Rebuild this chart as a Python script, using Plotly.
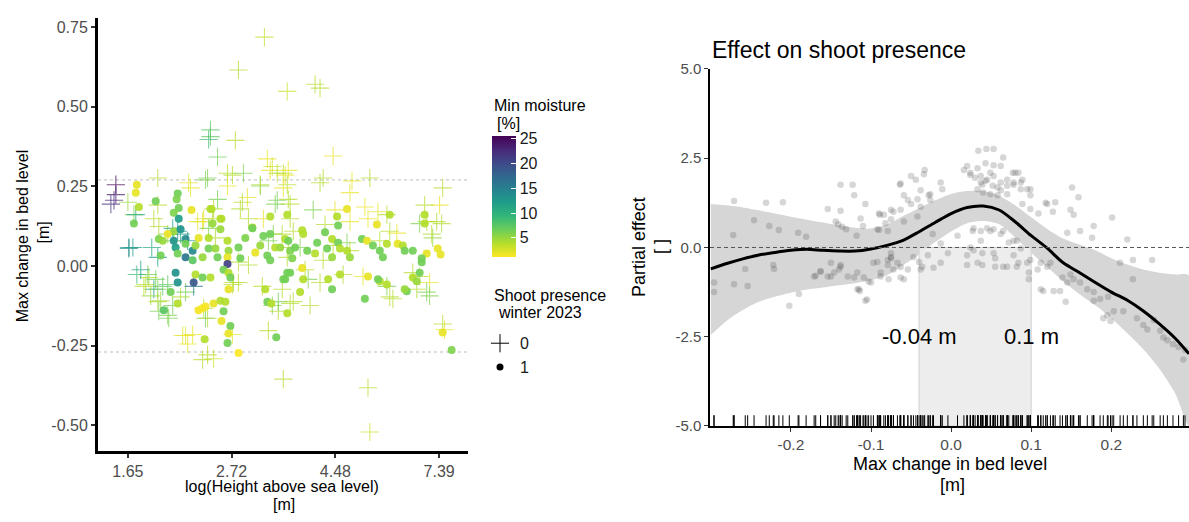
import plotly.graph_objects as go

# ---------------- data: left panel (bed level change vs. elevation) ----------------
# shoot presence = 0 (crosses)
cross_log_height = [1.158, 1.033, 1.268, 1.402, 1.426, 0.898, 0.898, 0.889, 1.018, 0.932,
                    0.442, 0.442, 0.433, 0.418, 0.644, 0.793, 0.802, 0.884, 0.980, 1.057,
                    0.980, 1.172, 1.186, 1.220, 1.249, 1.138, 1.220, 1.268, 1.076, 0.932,
                    0.913, 0.644, 0.529, 0.625, 0.505, 0.505, 0.524, 0.615, 0.836, 0.865,
                    1.042, 1.081, 1.153, 1.282, 1.201, 1.297, 0.692, 0.754, 0.788, 0.721,
                    0.634, 0.601, 0.625, 0.668, 0.586, 0.692, 0.658, 0.649, 0.716, 0.697,
                    0.754, 0.778, 0.817, 0.874, 0.778, 0.812, 1.004, 1.033, 1.004, 1.196,
                    1.225, 1.148, 1.033, 1.081, 0.860, 0.908, 0.889, 0.922, 0.740, 0.716,
                    0.649, 0.538, 1.052, 1.138, 1.196, 1.273, 1.004, 0.874, 1.210, 1.273,
                    1.244, 1.273, 1.177, 1.244, 1.177, 1.225, 1.489, 1.441, 1.426, 1.580,
                    1.570, 1.666, 1.258, 1.249, 1.282, 1.393, 1.450, 1.498, 1.570, 1.642,
                    1.657, 1.748, 1.762, 1.714, 1.796, 1.930, 1.940, 2.017, 2.002, 2.012,
                    1.964, 1.969, 1.556, 1.570, 1.489, 1.441, 1.330, 1.268, 1.369, 1.354,
                    1.426, 1.537, 1.633, 1.748, 1.777, 1.873, 1.892, 1.954, 1.954, 1.906,
                    1.378, 1.282, 2.026, 2.017, 1.249, 1.657, 1.666, 1.705, 1.988, 1.906,
                    0.596, 0.577, 0.610, 0.644, 0.644, 0.692, 0.865, 0.884, 0.764, 0.788,
                    0.884, 0.860, 0.913, 1.009, 1.297, 0.543, 0.562, 1.940, 1.762, 0.644,
                    0.500]
cross_bed_change = [0.718, 0.615, 0.548, 0.570, 0.558, 0.427, 0.406, 0.397, 0.394, 0.342,
                    0.255, 0.224, 0.206, 0.194, 0.276, 0.261, 0.245, 0.276, 0.291, 0.291,
                    0.251, 0.336, 0.300, 0.291, 0.291, 0.251, 0.206, 0.255, 0.215, 0.209,
                    0.179, 0.191, 0.161, 0.148, 0.058, 0.055, 0.058, 0.058, 0.139, 0.148,
                    0.179, 0.148, 0.148, 0.148, 0.100, 0.109, 0.100, 0.100, 0.079, 0.079,
                    -0.042, -0.036, -0.073, -0.064, -0.058, -0.058, -0.109, -0.142, -0.124, -0.164,
                    -0.097, -0.082, -0.064, -0.164, -0.218, -0.215, -0.058, -0.052, -0.215, -0.124,
                    -0.142, -0.064, 0.012, 0.003, 0.139, 0.148, 0.118, 0.088, 0.109, 0.118,
                    0.124, 0.161, 0.200, 0.255, 0.312, 0.300, 0.285, 0.270, 0.194, 0.209,
                    0.100, 0.058, 0.079, -0.073, -0.203, -0.112, 0.345, 0.276, 0.261, 0.267,
                    0.230, 0.276, 0.285, 0.245, 0.194, 0.176, 0.130, 0.176, 0.139, 0.185,
                    0.148, 0.161, 0.109, 0.079, 0.103, 0.191, 0.139, 0.245, 0.191, 0.133,
                    0.100, 0.088, 0.073, 0.048, 0.064, 0.018, 0.058, 0.027, -0.042, -0.012,
                    -0.052, -0.027, -0.033, -0.064, -0.103, -0.021, -0.073, -0.052, -0.094, -0.033,
                    -0.124, -0.118, -0.200, -0.182, -0.355, -0.382, -0.521, 0.170, 0.139, 0.133,
                    -0.027, -0.064, -0.094, -0.073, -0.112, -0.155, -0.133, -0.164, -0.218, -0.245,
                    -0.279, -0.294, -0.291, -0.052, -0.112, -0.027, -0.012, -0.082, -0.097, 0.027,
                    0.200]
cross_moisture = [3.5, 4, 3, 4, 4, 7.5, 7.5, 9, 4, 6.5,
                  25.6, 24, 23, 22, 4, 2, 2, 6, 4, 6,
                  2, 2, 2, 4, 4, 6, 6.5, 4, 2, 6.5,
                  4, 4, 6, 4, 13, 14, 12, 11, 2, 2,
                  4, 4, 2, 4, 6, 4, 5, 12, 13, 6.5,
                  6.5, 4, 12, 7.5, 4, 7.5, 5, 6.5, 6.5, 6,
                  4, 6.5, 16, 6.5, 2, 2, 4, 4, 2, 6,
                  4, 4, 4, 4, 2, 4, 6, 4, 13, 12,
                  4, 11, 4, 4, 3, 2, 4, 6, 6, 4,
                  4, 4, 6, 4, 4, 6.5, 2, 4, 4, 2,
                  2, 4, 2, 2, 4, 6, 4, 2, 2, 2,
                  2, 4, 4, 4, 2, 4, 4, 4, 2, 4,
                  4, 5, 6, 4, 4, 4, 6, 4, 6, 4,
                  4, 4, 2, 6, 4, 4, 4, 2, 6, 4,
                  4, 4, 2, 4, 4, 4, 3, 2, 4, 6,
                  6.5, 4, 5, 6, 4, 6, 4, 4, 2, 2,
                  4, 4, 3, 4, 4, 9, 12, 6, 4, 12,
                  5]

# shoot presence = 1 (dots)
dot_log_height = [0.543, 0.538, 0.553, 0.529, 0.634, 0.740, 0.735, 0.745, 0.807, 0.721,
                  0.903, 0.946, 1.100, 1.186, 1.268, 1.114, 1.210, 1.258, 1.066, 0.745,
                  0.721, 0.754, 0.649, 0.668, 0.692, 0.721, 0.778, 0.730, 0.778, 0.812,
                  0.826, 0.658, 0.740, 0.778, 0.812, 0.841, 0.889, 0.889, 0.922, 0.932,
                  0.860, 0.980, 0.985, 0.980, 0.980, 0.961, 0.985, 0.908, 0.951, 0.898,
                  0.946, 1.033, 1.100, 1.153, 1.186, 1.172, 1.186, 1.273, 1.282, 1.268,
                  0.730, 0.740, 0.817, 0.826, 0.860, 0.898, 0.985, 0.994, 0.740, 0.706,
                  0.673, 0.841, 0.860, 0.874, 0.913, 0.946, 0.970, 0.961, 0.951, 0.994,
                  0.985, 0.980, 0.870, 1.033, 1.215, 1.172, 1.191, 1.162, 1.258, 1.268,
                  1.330, 1.556, 1.340, 1.345, 1.508, 1.513, 1.450, 1.484, 1.513, 1.412,
                  1.306, 1.364, 1.402, 1.460, 1.522, 1.556, 1.570, 1.484, 1.628, 1.652,
                  1.700, 1.762, 1.681, 1.714, 1.729, 1.748, 1.800, 1.825, 1.834, 1.873,
                  1.930, 1.930, 1.993, 1.940, 1.916, 1.916, 1.906, 1.873, 1.892, 1.844,
                  1.834, 1.714, 1.705, 1.748, 1.642, 1.657, 1.522, 1.465, 1.484, 1.345,
                  1.340, 1.282, 1.249, 2.017, 2.007, 2.060, 1.234, 1.292, 1.138, 1.042]
dot_bed_change = [0.255, 0.230, 0.185, 0.133, 0.203, 0.227, 0.209, 0.182, 0.176, 0.167,
                  0.179, 0.148, 0.121, 0.155, 0.161, 0.042, 0.058, 0.085, 0.088, 0.148,
                  0.109, 0.115, 0.085, 0.079, 0.100, 0.079, 0.085, 0.058, 0.070, 0.048,
                  0.064, 0.033, 0.039, 0.027, 0.018, 0.088, 0.088, 0.055, 0.055, 0.027,
                  0.027, 0.079, 0.048, 0.027, 0.006, -0.012, -0.021, 0.133, 0.148, 0.179,
                  0.115, 0.058, 0.118, 0.094, 0.100, 0.033, 0.018, 0.079, 0.048, -0.021,
                  -0.021, -0.052, -0.052, -0.027, -0.036, -0.036, -0.073, -0.036, -0.118, -0.082,
                  -0.139, -0.139, -0.133, -0.127, -0.118, -0.109, -0.112, -0.142, -0.173, -0.188,
                  -0.212, -0.242, -0.230, -0.273, -0.224, -0.112, -0.118, -0.073, -0.042, -0.148,
                  -0.082, 0.179, 0.112, 0.100, 0.155, 0.127, 0.106, 0.085, 0.073, 0.073,
                  0.058, 0.048, 0.039, 0.055, 0.055, 0.048, 0.027, 0.027, 0.085, 0.079,
                  0.130, 0.161, 0.064, 0.048, 0.027, 0.070, 0.070, 0.064, 0.048, 0.048,
                  0.161, 0.133, 0.055, 0.039, 0.024, 0.012, -0.021, -0.036, -0.048, -0.079,
                  -0.073, -0.048, -0.042, -0.058, -0.103, -0.033, -0.027, -0.042, -0.073, -0.042,
                  -0.006, -0.021, -0.042, -0.209, 0.036, -0.264, 0.058, 0.024, 0.064, 0.024]
dot_moisture = [2, 2, 4, 6.5, 6.5, 6.5, 6, 6.5, 2, 6,
                4, 4, 4, 4, 4, 2, 4, 4, 6, 12,
                5, 13, 6, 5, 2, 13, 14, 12, 6.5, 14,
                5, 6.5, 6.5, 16, 7.5, 2, 4, 6.5, 5, 6.5,
                5, 4, 5, 2, 21, 6.5, 4, 5, 4, 4,
                5, 6.5, 6.5, 6.5, 6.5, 6.5, 6.5, 6.5, 6, 6.5,
                13, 13, 19, 4, 6.5, 4, 2, 6.5, 4, 6.5,
                7.5, 1.5, 1.5, 1.5, 2, 4, 4, 6.5, 2, 6.5,
                2, 6.5, 4, 1.2, 6.5, 6.5, 4, 4, 6.5, 4,
                4, 2, 4, 4, 4, 6.5, 6.5, 4, 6.5, 6.5,
                6.5, 6.5, 4, 6.5, 4, 4, 5, 5, 6.5, 2,
                2, 4, 6.5, 6.5, 6.5, 4, 2, 4, 6.5, 6.5,
                4, 4, 2, 2, 6.5, 6.5, 6.5, 4, 5, 6.5,
                5, 4, 6.5, 4, 6.5, 2, 4, 4, 6.5, 4,
                2, 6.5, 6.5, 2, 2, 6, 5, 6, 5, 6.5]

x_tick_vals = [0.5, 1.0, 1.5, 2.0]
x_tick_text = ["1.65", "2.72", "4.48", "7.39"]
y_tick_vals = [-0.5, -0.25, 0.0, 0.25, 0.5, 0.75]
y_tick_text = ["-0.50", "-0.25", "0.00", "0.25", "0.50", "0.75"]
bed_limits = [-0.27, 0.27]
moisture_ticks = [5, 10, 15, 20, 25]

# ---------------- data: right panel (partial effect) ----------------
right_x = [-0.271, -0.231, -0.210, -0.272, -0.246, -0.227, -0.215, -0.191, -0.181, -0.154,
           -0.138, -0.123, -0.121, -0.138, -0.107, -0.141, -0.136, -0.131, -0.113, -0.110,
           -0.118, -0.089, -0.090, -0.082, -0.075, -0.064,
           -0.296, -0.296, -0.271, -0.254, -0.257, -0.222, -0.221, -0.202, -0.190, -0.169,
           -0.163, -0.150, -0.154, -0.146, -0.140, -0.138, -0.129, -0.121, -0.117, -0.117,
           -0.114, -0.105, -0.103, -0.109, -0.097, -0.092, -0.088, -0.079, -0.078, -0.072,
           -0.067, -0.075,
           -0.144, -0.090, -0.063, -0.050, -0.044, -0.033, -0.038, -0.059, -0.054, -0.050,
           -0.042, -0.028, -0.026, -0.013, -0.011, -0.075, -0.072, -0.063, -0.092, -0.042,
           -0.023, 0.008, 0.016, 0.020, 0.024, 0.034, 0.044, 0.053, 0.065, 0.043,
           0.053, 0.062, 0.030, 0.037, 0.043, 0.049, 0.052, 0.058, 0.062, 0.070,
           0.078, 0.087, 0.077, 0.084, 0.099, 0.089, 0.099, 0.109, 0.120, 0.028,
           0.037, 0.045, 0.053, 0.062, 0.065, 0.072, 0.082,
           -0.171, -0.163, -0.150, -0.138, -0.115, -0.107, -0.100, -0.088, -0.075, -0.063,
           -0.054, -0.047, -0.040, -0.029, -0.036, -0.013, 0.020, 0.020, 0.028, 0.039,
           0.039, 0.055, 0.065, 0.078, 0.084, 0.099, 0.097, 0.112, 0.112, 0.120,
           0.151, 0.159, 0.118, 0.130, 0.127, 0.149, 0.153, 0.161, 0.145, 0.178,
           0.176, 0.201, 0.220, -0.034, -0.026, -0.038, -0.084, -0.059, -0.079,
           0.024, 0.033, 0.037, 0.045, 0.053, 0.062, 0.070, 0.078, 0.087, 0.095,
           0.033, 0.040, 0.049, 0.058, 0.039, 0.070, 0.080, 0.089, 0.099,
           0.027, 0.037, 0.049, 0.078, 0.087, 0.024, 0.053, -0.013, -0.004, -0.075,
           -0.079, -0.063, -0.059, -0.038, -0.022, 0.033, 0.055, 0.070, 0.082, 0.095,
           0.097, 0.108, 0.115, 0.124, 0.128, 0.136, 0.139, 0.145, 0.149, 0.143,
           0.153, 0.161, 0.170, 0.178, 0.186, 0.178, 0.196, 0.203, 0.195, 0.199,
           0.215, 0.227, 0.232, 0.240, 0.245, 0.253, 0.261, 0.265, 0.270, 0.277,
           0.284, 0.290, 0.292, 0.227, 0.251, 0.211, 0.190]
right_y = [1.30, 1.25, 1.27, 0.35, 0.76, 0.60, 0.49, 0.41, 0.30, 1.08,
           1.76, 1.76, 1.46, 1.03, 1.22, 0.65, 0.58, 0.51, 0.81, 0.60,
           0.33, 0.92, 0.49, 0.68, 1.06, 1.76,
           -0.98, -1.25, -1.03, -1.08, -0.60, -0.49, -0.60, -1.63, -1.30, -0.79,
           -0.68, -0.43, -0.81, -0.70, -0.62, -0.49, -0.81, -0.84, -0.70, -1.17,
           -1.22, -1.46, -0.95, -0.84, -0.43, -0.41, -0.70, -0.49, -0.89, -0.62,
           -0.43, -0.30,
           0.73, 0.95, 1.79, 2.00, 1.90, 2.17, 1.60, 1.46, 1.33, 1.22,
           1.35, 1.46, 1.33, 1.82, 1.63, 0.79, 1.00, 1.06, 0.51, 0.87,
           0.38, 0.33, 2.17, 2.28, 2.03, 2.71, 2.76, 2.76, 2.52, 2.36,
           2.30, 2.28, 1.95, 1.82, 1.87, 2.09, 1.73, 1.68, 1.60, 1.73,
           1.82, 1.82, 2.09, 2.09, 1.63, 1.22, 1.08, 0.95, 1.22, 0.54,
           0.46, 0.54, 0.51, 0.38, 0.46, 0.14, 0.19,
           -0.81, -0.66, -0.81, -0.54, -1.17, -1.49, -0.98, -0.81, -0.27, -0.84,
           -0.62, -0.27, -0.41, -0.22, -0.54, -0.43, -0.22, -0.49, -0.08, -0.16,
           -0.49, -0.30, -0.54, -0.22, -0.43, -0.35, -0.70, -0.43, -1.17, -0.54,
           1.68, 1.41, 1.25, 1.27, 1.00, 1.06, 0.92, 0.46, 0.41, 0.60,
           0.27, 0.84, 0.22, 2.05, 1.49, 1.14, 0.92, 0.73, 0.46,
           2.09, 2.22, 2.00, 1.90, 2.00, 1.82, 1.90, 1.76, 1.63, 1.63,
           1.63, 1.54, 1.49, 1.46, 1.76, 1.49, 2.09, 1.90, 1.46,
           0.46, 0.19, 0.46, 0.19, -0.03, 0.00, -0.16, 0.11, -0.16, -0.16,
           -0.35, -0.55, -0.89, -0.62, -0.57, -0.43, -0.54, -0.54, -0.54, -0.43,
           -0.89, -0.62, -1.22, -0.43, -1.22, -1.22, -0.84, -0.98, -0.76, -1.52,
           -0.89, -0.98, -1.17, -1.25, -1.44, -1.49, -1.38, -1.79, -1.90, -2.06,
           -1.79, -0.89, -1.98, -2.17, -2.30, -2.03, -2.33, -2.52, -2.60, -2.71,
           -2.79, -3.14, -2.87, -0.35, -0.35, -0.43, -1.98]

fit_x = [-0.30, -0.28, -0.26, -0.24, -0.22, -0.20, -0.18, -0.16, -0.14, -0.12,
         -0.10, -0.08, -0.06, -0.04, -0.02, 0.00, 0.02, 0.04, 0.06, 0.08,
         0.10, 0.12, 0.14, 0.16, 0.18, 0.20, 0.22, 0.24, 0.26, 0.28, 0.297]
fit_y = [-0.60, -0.45, -0.32, -0.21, -0.14, -0.08, -0.05, -0.08, -0.10, -0.10,
         -0.04, 0.06, 0.20, 0.44, 0.70, 0.95, 1.12, 1.16, 1.05, 0.72,
         0.33, -0.02, -0.43, -0.70, -0.98, -1.25, -1.48, -1.78, -2.14, -2.55, -2.98]
fit_upper = [1.22, 1.18, 1.12, 1.04, 0.95, 0.86, 0.78, 0.70, 0.62, 0.55,
             0.53, 0.64, 0.88, 1.10, 1.32, 1.50, 1.58, 1.58, 1.45, 1.18,
             0.85, 0.52, 0.25, 0.08, -0.08, -0.30, -0.48, -0.62, -0.71, -0.76, -0.79]
fit_lower = [-2.45, -2.05, -1.75, -1.52, -1.38, -1.27, -1.18, -1.12, -1.06, -1.00,
             -0.92, -0.78, -0.50, -0.20, 0.15, 0.45, 0.68, 0.74, 0.65, 0.28,
             -0.15, -0.55, -0.95, -1.30, -1.62, -1.98, -2.40, -2.85, -3.40, -4.10, -5.00]
thresholds = [-0.04, 0.1]

r_x_ticks = [-0.2, -0.1, 0.0, 0.1, 0.2]
r_x_text = ["-0.2", "-0.1", "0.0", "0.1", "0.2"]
r_y_ticks = [-5.0, -2.5, 0.0, 2.5, 5.0]
r_y_text = ["-5.0", "-2.5", "0.0", "2.5", "5.0"]

# ---------------- layout helpers (pixel -> paper) ----------------
W, H = 1189, 522


def px(p):
    return p / W


def py(p):
    return 1 - p / H


FONT = "Liberation Sans, Arial, sans-serif"
TICK_GREY = "#4d4d4d"

all_moist = cross_moisture + dot_moisture
y_lo, y_hi = -5.0, 5.0

fig = go.Figure()

# left panel: crosses (no shoots) and dots (shoots)
fig.add_trace(go.Scatter(
    x=cross_log_height, y=cross_bed_change, mode="markers", showlegend=False,
    xaxis="x", yaxis="y",
    marker=dict(symbol="cross-thin-open", size=13, color=cross_moisture,
                coloraxis="coloraxis", opacity=0.7, line=dict(width=1.1)),
    hoverinfo="skip"))
fig.add_trace(go.Scatter(
    x=dot_log_height, y=dot_bed_change, mode="markers", showlegend=False,
    xaxis="x", yaxis="y",
    marker=dict(symbol="circle", size=8, color=dot_moisture,
                coloraxis="coloraxis", opacity=0.92, line=dict(width=0)),
    hoverinfo="skip"))

# legend entries for shoot presence
fig.add_trace(go.Scatter(x=[None], y=[None], mode="markers", name="0",
                         xaxis="x", yaxis="y",
                         marker=dict(symbol="cross-thin-open", size=13, color="black",
                                     line=dict(width=1))))
fig.add_trace(go.Scatter(x=[None], y=[None], mode="markers", name="1",
                         xaxis="x", yaxis="y",
                         marker=dict(symbol="circle", size=7, color="black")))

# right panel: confidence ribbon
fig.add_trace(go.Scatter(
    x=fit_x + fit_x[::-1], y=fit_upper + fit_lower[::-1],
    mode="lines", fill="toself", fillcolor="#d6d6d6",
    line=dict(width=0, shape="spline", smoothing=0.8),
    xaxis="x2", yaxis="y2", showlegend=False, hoverinfo="skip"))

# right panel: interval between the thresholds
t0, t1 = thresholds
fig.add_trace(go.Scatter(
    x=[t0, t1, t1, t0, t0], y=[y_lo, y_lo, 0, 0, y_lo],
    mode="lines", fill="toself", fillcolor="rgba(235,235,235,0.92)",
    line=dict(width=1, color="#d2d2d2"),
    xaxis="x2", yaxis="y2", showlegend=False, hoverinfo="skip"))

# partial residuals
fig.add_trace(go.Scatter(
    x=right_x, y=right_y, mode="markers",
    marker=dict(size=6.5, color="rgba(70,70,70,0.22)", line=dict(width=0)),
    xaxis="x2", yaxis="y2", showlegend=False, hoverinfo="skip"))

# fitted smooth
fig.add_trace(go.Scatter(
    x=fit_x, y=fit_y, mode="lines",
    line=dict(color="black", width=3, shape="spline", smoothing=0.8),
    xaxis="x2", yaxis="y2", showlegend=False, hoverinfo="skip"))

# rug along the bottom
rug_x, rug_y = [], []
for v in right_x:
    rug_x += [v, v, None]
    rug_y += [y_lo, y_lo + 0.3, None]
fig.add_trace(go.Scatter(
    x=rug_x, y=rug_y, mode="lines", line=dict(color="black", width=1),
    xaxis="x2", yaxis="y2", showlegend=False, hoverinfo="skip"))

shapes = []
for b in bed_limits:
    shapes.append(dict(type="line", xref="x domain", yref="y", x0=0, x1=1, y0=b, y1=b,
                       line=dict(color="#bdbdbd", width=1, dash="3px,3px"), layer="below"))
shapes.append(dict(type="line", xref="x2 domain", yref="y2", x0=0, x1=1, y0=0, y1=0,
                   line=dict(color="#555555", width=1, dash="4px,3px"), layer="above"))


def ann(text, x, y, size=16, angle=0, xanchor="center", color="black", **kw):
    return dict(text=text, x=x, y=y, xref=kw.get("xref", "paper"), yref=kw.get("yref", "paper"),
                showarrow=False, textangle=angle, xanchor=xanchor, yanchor="middle",
                font=dict(family=FONT, size=size, color=color))


annotations = [
    ann("Max change in bed level", px(22), py(235), angle=-90),
    ann("[m]", px(43), py(231), angle=-90),
    ann("log(Height above sea level)", px(282), py(494)),
    ann("[m]", px(284), py(512)),
    ann("Min moisture", px(492), py(100), xanchor="left"),
    ann("[%]", px(495), py(118), xanchor="left"),
    ann("Shoot presence", px(492), py(296), xanchor="left"),
    ann("winter 2023", px(496), py(314), xanchor="left"),
    ann("Effect on shoot presence", px(710), py(42), size=23, xanchor="left"),
    ann("Partial effect", px(639), py(246), size=18, angle=-90),
    ann("[ ]", px(661), py(246), size=18, angle=-90),
    ann("Max change in bed level", px(950), py(470), size=18),
    ann("[m]", px(952), py(492), size=18),
]
for t in thresholds:
    annotations.append(ann(f"{t:g} m", t, -2.5, size=22, xref="x2", yref="y2"))

axis_common = dict(showgrid=False, zeroline=False, showline=True, linecolor="black",
                   ticks="outside", tickcolor="#333333",
                   tickfont=dict(family=FONT, color=TICK_GREY))

fig.update_layout(
    width=W, height=H, autosize=False,
    margin=dict(l=0, r=0, t=0, b=0),
    paper_bgcolor="white", plot_bgcolor="white",
    font=dict(family=FONT, color="black"),
    xaxis=dict(axis_common, domain=[px(98), px(468)], range=[0.356, 2.139],
               anchor="y", linewidth=3, tickwidth=2, ticklen=4,
               tickvals=x_tick_vals, ticktext=x_tick_text,
               tickfont=dict(family=FONT, size=16, color=TICK_GREY)),
    yaxis=dict(axis_common, domain=[py(457), py(9)], range=[-0.581, 0.779],
               anchor="x", linewidth=3, tickwidth=2, ticklen=4,
               tickvals=y_tick_vals, ticktext=y_tick_text,
               tickfont=dict(family=FONT, size=16, color=TICK_GREY)),
    xaxis2=dict(axis_common, domain=[px(710), 1.0], range=[-0.301, 0.297],
                anchor="y2", linewidth=1.5, tickwidth=1.2, ticklen=4,
                tickvals=r_x_ticks, ticktext=r_x_text,
                tickfont=dict(family=FONT, size=15.5, color=TICK_GREY)),
    yaxis2=dict(axis_common, domain=[py(431), py(62)], range=[y_lo, y_hi],
                anchor="x2", linewidth=1.5, tickwidth=1.2, ticklen=4,
                tickvals=r_y_ticks, ticktext=r_y_text,
                tickfont=dict(family=FONT, size=15, color=TICK_GREY)),
    coloraxis=dict(
        colorscale="Viridis", reversescale=True,
        cmin=min(all_moist), cmax=max(all_moist),
        colorbar=dict(x=px(492), xanchor="left", xpad=0,
                      y=py(193.5), yanchor="middle", ypad=0,
                      len=121, lenmode="pixels", thickness=24, thicknessmode="pixels",
                      outlinewidth=0, tickvals=moisture_ticks,
                      ticks="inside", ticklen=5, tickcolor="white",
                      tickfont=dict(family=FONT, size=16, color="#1a1a1a"))),
    showlegend=True,
    legend=dict(x=px(480), xanchor="left", y=py(328), yanchor="top",
                font=dict(family=FONT, size=16, color="#1a1a1a"),
                bgcolor="rgba(0,0,0,0)", borderwidth=0, tracegroupgap=0),
    shapes=shapes,
    annotations=annotations,
)

fig.write_html("out.html")
